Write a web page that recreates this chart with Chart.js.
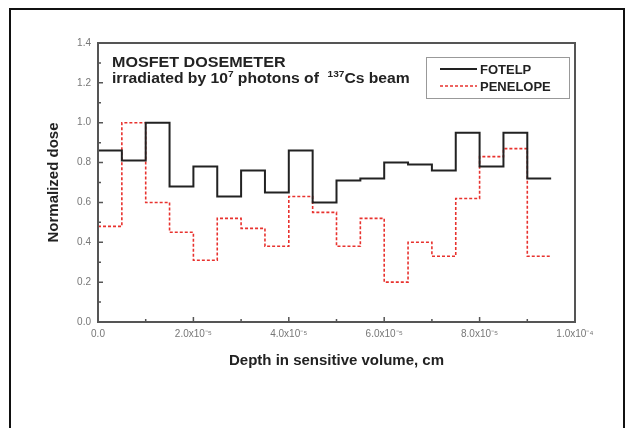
<!DOCTYPE html>
<html>
<head>
<meta charset="utf-8">
<script src="https://cdn.jsdelivr.net/npm/chart.js@4.4.0/dist/chart.umd.min.js"></script>
<style>
  html, body { margin: 0; padding: 0; background: #fff; }
  #frame { position: absolute; left: 9px; top: 8px; width: 616px; height: 440px; border: 2px solid #111; box-sizing: border-box; }
  #wrap { position: absolute; left: 0; top: 0; width: 632px; height: 428px; }
</style>
</head>
<body>
<div id="frame"></div>
<div id="wrap"><canvas id="dose-chart"></canvas></div>
<script>
// bin edges of the sensitive volume (cm), 19 bins of 5e-6 cm
const depthEdges = [0, 5e-6, 1e-5, 1.5e-5, 2e-5, 2.5e-5, 3e-5, 3.5e-5, 4e-5, 4.5e-5,
  5e-5, 5.5e-5, 6e-5, 6.5e-5, 7e-5, 7.5e-5, 8e-5, 8.5e-5, 9e-5, 9.5e-5];
const fotelpDose = [0.86, 0.81, 1.00, 0.68, 0.78, 0.63, 0.76, 0.65, 0.86, 0.60,
  0.71, 0.72, 0.80, 0.79, 0.76, 0.95, 0.78, 0.95, 0.72];
const penelopeDose = [0.48, 1.00, 0.60, 0.45, 0.31, 0.52, 0.47, 0.38, 0.63, 0.55,
  0.38, 0.52, 0.20, 0.40, 0.33, 0.62, 0.83, 0.87, 0.33];
const xTickLabels = ["0.0", "2.0x10⁻⁵", "4.0x10⁻⁵", "6.0x10⁻⁵", "8.0x10⁻⁵", "1.0x10⁻⁴"];
const seriesNames = ["FOTELP", "PENELOPE"];
const noteLine1 = "MOSFET DOSEMETER";

// step points: left edge of each bin, plus the closing right edge
function toSteps(vals) {
  return depthEdges.map((x, i) => ({ x: x, y: vals[Math.min(i, vals.length - 1)] }));
}

// draw a run of text pieces, stretched a bit sideways like the scan
function drawPieces(ctx, pieces, x, y, sx) {
  ctx.save();
  ctx.translate(x, y);
  ctx.scale(sx, 1);
  let cx = 0;
  pieces.forEach(p => {
    ctx.font = p.font;
    ctx.fillText(p.text, cx, p.dy || 0);
    cx += ctx.measureText(p.text).width;
  });
  ctx.restore();
}

const extras = {
  id: "extras",
  afterDraw(chart) {
    const ctx = chart.ctx;
    const a = chart.chartArea;
    const xs = chart.scales.x, ys = chart.scales.y;

    // ticks pointing into the plot
    ctx.save();
    ctx.strokeStyle = "#555";
    ctx.lineWidth = 1.5;
    ctx.beginPath();
    xs.ticks.forEach(t => {
      const k = Math.round(t.value / 1e-5);
      const px = xs.getPixelForValue(t.value);
      const len = k % 2 === 0 ? 5 : 3;
      ctx.moveTo(px, a.bottom); ctx.lineTo(px, a.bottom - len);
    });
    ys.ticks.forEach(t => {
      const k = Math.round(t.value / 0.1);
      const py = ys.getPixelForValue(t.value);
      const len = k % 2 === 0 ? 5 : 3;
      ctx.moveTo(a.left, py); ctx.lineTo(a.left + len, py);
    });
    ctx.stroke();

    // plot frame
    ctx.lineWidth = 2;
    ctx.strokeStyle = "#555";
    ctx.strokeRect(a.left, a.top, a.right - a.left, a.bottom - a.top);

    // annotation
    ctx.fillStyle = "#222";
    ctx.textBaseline = "alphabetic";
    ctx.textAlign = "left";
    const f = "bold 14px 'Liberation Sans', Arial, sans-serif";
    const fs = "bold 9px 'Liberation Sans', Arial, sans-serif";
    drawPieces(ctx, [{ text: noteLine1, font: f }], a.left + 14, a.top + 24, 1.15);
    drawPieces(ctx, [
      { text: "irradiated by 10", font: f },
      { text: "7", font: fs, dy: -6 },
      { text: " photons of  ", font: f },
      { text: "137", font: fs, dy: -6 },
      { text: "Cs beam", font: f }
    ], a.left + 14, a.top + 40, 1.12);

    // legend box
    const lx = 426, ly = 57, lw = 143, lh = 41;
    ctx.fillStyle = "#fff";
    ctx.fillRect(lx, ly, lw, lh);
    ctx.strokeStyle = "#999";
    ctx.lineWidth = 1;
    ctx.strokeRect(lx + 0.5, ly + 0.5, lw, lh);
    chart.data.datasets.forEach((ds, i) => {
      const yy = ly + 12 + i * 17;
      ctx.strokeStyle = ds.borderColor;
      ctx.lineWidth = ds.borderWidth;
      ctx.setLineDash(ds.borderDash || []);
      ctx.beginPath();
      ctx.moveTo(lx + 14, yy); ctx.lineTo(lx + 51, yy);
      ctx.stroke();
      ctx.setLineDash([]);
      ctx.fillStyle = "#222";
      ctx.font = "bold 13px 'Liberation Sans', Arial, sans-serif";
      ctx.textBaseline = "middle";
      ctx.fillText(ds.label, lx + 54, yy + 1);
    });
    ctx.restore();
  }
};

const ctx = document.getElementById("dose-chart").getContext("2d");
new Chart(ctx, {
  type: "line",
  data: {
    datasets: [
      {
        label: seriesNames[0],
        data: toSteps(fotelpDose),
        stepped: "before",
        borderColor: "#222",
        borderWidth: 2,
        pointRadius: 0,
        fill: false
      },
      {
        label: seriesNames[1],
        data: toSteps(penelopeDose),
        stepped: "before",
        borderColor: "#e8322e",
        borderWidth: 1.6,
        borderDash: [3, 2],
        pointRadius: 0,
        fill: false
      }
    ]
  },
  options: {
    responsive: true,
    maintainAspectRatio: false,
    animation: false,
    layout: { padding: { left: 45, top: 43, right: 57, bottom: 58 } },
    plugins: {
      legend: { display: false },
      tooltip: { enabled: false }
    },
    scales: {
      x: {
        type: "linear",
        min: 0,
        max: 1e-4,
        grid: { display: false, drawTicks: false },
        border: { display: false },
        ticks: {
          stepSize: 1e-5,
          autoSkip: false,
          maxRotation: 0,
          padding: 6,
          color: "#777",
          font: { family: "'Liberation Sans', Arial, sans-serif", size: 10 },
          callback: (v) => {
            const k = Math.round(v / 1e-5);
            return k % 2 === 0 ? xTickLabels[k / 2] : "";
          }
        },
        title: {
          display: true,
          text: "Depth in sensitive volume, cm",
          color: "#222",
          padding: 0,
          font: { family: "'Liberation Sans', Arial, sans-serif", size: 15, weight: "bold" }
        },
        afterFit: (scale) => { scale.height = 48; }
      },
      y: {
        min: 0,
        max: 1.4,
        grid: { display: false, drawTicks: false },
        border: { display: false },
        ticks: {
          stepSize: 0.1,
          autoSkip: false,
          padding: 7,
          color: "#777",
          font: { family: "'Liberation Sans', Arial, sans-serif", size: 10 },
          callback: (v) => {
            const k = Math.round(v / 0.1);
            return k % 2 === 0 ? v.toFixed(1) : "";
          }
        },
        title: {
          display: true,
          text: "Normalized dose",
          color: "#222",
          padding: 0,
          font: { family: "'Liberation Sans', Arial, sans-serif", size: 15, weight: "bold" }
        },
        afterFit: (scale) => { scale.width = 53; }
      }
    }
  },
  plugins: [extras]
});
</script>
</body>
</html>
